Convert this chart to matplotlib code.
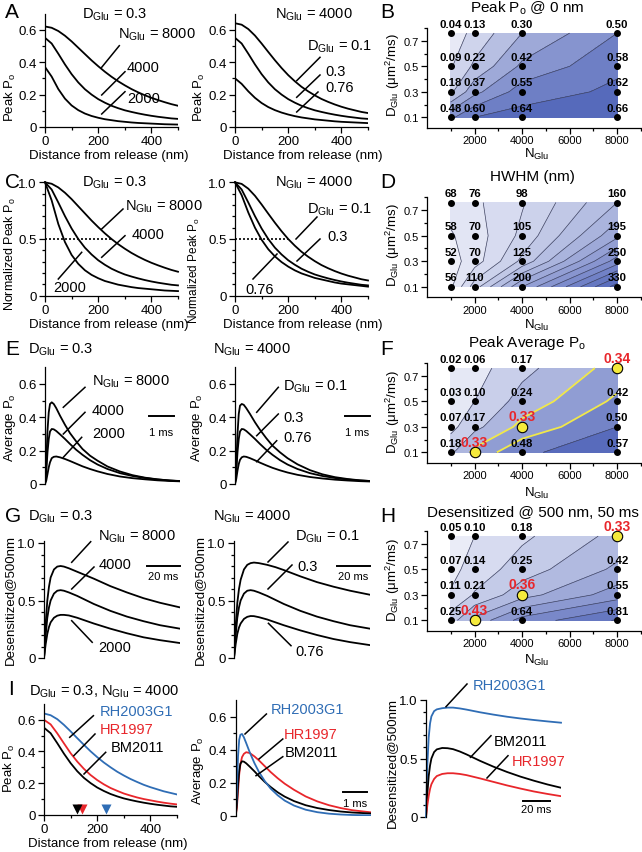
import numpy as np
import matplotlib
matplotlib.use('Agg')
import matplotlib.pyplot as plt
from matplotlib.colors import LinearSegmentedColormap
from matplotlib.lines import Line2D

plt.rcParams['font.family'] = ['Liberation Sans', 'DejaVu Sans']
plt.rcParams['mathtext.fontset'] = 'custom'
plt.rcParams['mathtext.rm'] = 'Liberation Sans'
plt.rcParams['mathtext.it'] = 'Liberation Sans:italic'
plt.rcParams['mathtext.bf'] = 'Liberation Sans:bold'

# ---------------- data ----------------
dist_nm = [0, 25, 50, 75, 100, 125, 150, 175, 200, 225, 250, 275, 300, 325, 350, 375, 400, 425, 450, 475, 500]
peak_D03_N8000 = [0.62, 0.612, 0.592, 0.563, 0.528, 0.489, 0.450, 0.411, 0.375, 0.341, 0.310, 0.282, 0.257, 0.234, 0.214, 0.196, 0.180, 0.166, 0.153, 0.141, 0.131]
peak_D03_N4000 = [0.55, 0.515, 0.452, 0.386, 0.326, 0.275, 0.233, 0.200, 0.172, 0.150, 0.131, 0.116, 0.103, 0.093, 0.084, 0.076, 0.069, 0.063, 0.058, 0.053, 0.050]
peak_D03_N2000 = [0.37, 0.311, 0.234, 0.175, 0.133, 0.104, 0.083, 0.068, 0.057, 0.048, 0.042, 0.036, 0.032, 0.028, 0.025, 0.023, 0.021, 0.019, 0.017, 0.016, 0.015]
peak_N4000_D01 = [0.64, 0.631, 0.604, 0.564, 0.515, 0.463, 0.412, 0.364, 0.320, 0.282, 0.248, 0.220, 0.195, 0.173, 0.155, 0.139, 0.125, 0.113, 0.103, 0.093, 0.086]
peak_N4000_D076 = [0.30, 0.266, 0.220, 0.180, 0.148, 0.123, 0.104, 0.089, 0.077, 0.067, 0.059, 0.053, 0.047, 0.043, 0.039, 0.035, 0.032, 0.030, 0.028, 0.026, 0.024]
peak_RH2003G1 = [0.64, 0.629, 0.604, 0.568, 0.527, 0.484, 0.442, 0.401, 0.364, 0.330, 0.300, 0.272, 0.248, 0.226, 0.207, 0.189, 0.174, 0.161, 0.148, 0.138, 0.128]
peak_HR1997 = [0.60, 0.571, 0.514, 0.451, 0.389, 0.336, 0.290, 0.251, 0.219, 0.192, 0.169, 0.151, 0.134, 0.121, 0.109, 0.099, 0.091, 0.083, 0.076, 0.070, 0.065]
peak_BM2011 = peak_D03_N4000
hwhm_I = [233, 144, 125]   # RH2003G1, HR1997, BM2011

t_avg = [0, 0.05, 0.1, 0.15, 0.2, 0.27, 0.35, 0.45, 0.6, 0.8, 1.0, 1.25, 1.5, 1.8, 2.1, 2.5, 3.0, 3.5, 4.0, 4.5, 5.0, 5.4]
avg_D03_N8000 = [0, 0.12, 0.32, 0.43, 0.48, 0.49, 0.48, 0.455, 0.41, 0.355, 0.305, 0.255, 0.21, 0.17, 0.14, 0.105, 0.075, 0.053, 0.038, 0.028, 0.021, 0.017]
avg_D03_N4000 = [0, 0.07, 0.19, 0.27, 0.315, 0.33, 0.328, 0.318, 0.298, 0.27, 0.24, 0.205, 0.175, 0.143, 0.117, 0.09, 0.065, 0.048, 0.036, 0.027, 0.021, 0.018]
avg_D03_N2000 = [0, 0.02, 0.06, 0.1, 0.13, 0.155, 0.163, 0.165, 0.16, 0.15, 0.138, 0.122, 0.106, 0.09, 0.076, 0.06, 0.045, 0.035, 0.028, 0.022, 0.018, 0.016]
avg_N4000_D01 = [0, 0.11, 0.30, 0.42, 0.47, 0.48, 0.475, 0.455, 0.42, 0.37, 0.325, 0.275, 0.23, 0.19, 0.155, 0.118, 0.083, 0.058, 0.041, 0.03, 0.022, 0.018]
avg_N4000_D076 = [0, 0.03, 0.08, 0.12, 0.145, 0.16, 0.165, 0.163, 0.155, 0.142, 0.128, 0.112, 0.097, 0.082, 0.069, 0.055, 0.042, 0.033, 0.026, 0.021, 0.017, 0.015]

t_avg_I = [0, 0.05, 0.1, 0.15, 0.2, 0.27, 0.35, 0.45, 0.6, 0.8, 1.0, 1.25, 1.5, 1.8, 2.1, 2.5, 3.0, 3.5, 4.0, 4.5, 5.0, 5.8]
avg_RH2003G1 = [0, 0.15, 0.36, 0.46, 0.49, 0.495, 0.475, 0.44, 0.385, 0.32, 0.265, 0.21, 0.165, 0.125, 0.093, 0.063, 0.038, 0.023, 0.014, 0.009, 0.006, 0.004]
avg_HR1997 = [0, 0.05, 0.15, 0.25, 0.31, 0.355, 0.375, 0.385, 0.38, 0.36, 0.335, 0.3, 0.265, 0.228, 0.195, 0.158, 0.118, 0.088, 0.065, 0.048, 0.035, 0.022]
avg_BM2011 = [0, 0.07, 0.19, 0.27, 0.315, 0.33, 0.328, 0.318, 0.298, 0.27, 0.24, 0.205, 0.175, 0.143, 0.117, 0.09, 0.065, 0.048, 0.036, 0.027, 0.021, 0.015]

t_des = [0, 1, 2, 3, 4, 6, 8, 10, 12, 15, 20, 25, 30, 40, 50, 60, 70, 82]
des_D03_N8000 = [0, 0.3, 0.5, 0.62, 0.7, 0.77, 0.795, 0.80, 0.795, 0.78, 0.75, 0.72, 0.69, 0.625, 0.57, 0.52, 0.48, 0.44]
des_D03_N4000 = [0, 0.2, 0.35, 0.44, 0.5, 0.56, 0.585, 0.59, 0.585, 0.57, 0.54, 0.505, 0.47, 0.41, 0.36, 0.32, 0.285, 0.255]
des_D03_N2000 = [0, 0.12, 0.21, 0.27, 0.31, 0.35, 0.368, 0.375, 0.375, 0.37, 0.35, 0.325, 0.3, 0.255, 0.215, 0.18, 0.155, 0.13]
des_N4000_D01 = [0, 0.28, 0.48, 0.6, 0.68, 0.77, 0.81, 0.825, 0.83, 0.825, 0.81, 0.79, 0.765, 0.71, 0.66, 0.62, 0.585, 0.55]
des_N4000_D076 = [0, 0.12, 0.21, 0.265, 0.3, 0.34, 0.358, 0.365, 0.364, 0.355, 0.335, 0.31, 0.285, 0.24, 0.2, 0.165, 0.138, 0.112]

t_des_I = [0, 1, 2, 3, 4, 6, 8, 12, 16, 20, 25, 30, 40, 50, 60, 70, 80, 90, 100]
des_RH2003G1 = [0, 0.45, 0.68, 0.8, 0.86, 0.905, 0.92, 0.93, 0.935, 0.935, 0.928, 0.918, 0.895, 0.875, 0.857, 0.842, 0.829, 0.817, 0.806]
des_BM2011 = [0, 0.2, 0.35, 0.44, 0.5, 0.555, 0.578, 0.59, 0.588, 0.58, 0.56, 0.535, 0.48, 0.43, 0.385, 0.345, 0.31, 0.278, 0.25]
des_HR1997 = [0, 0.1, 0.18, 0.24, 0.28, 0.325, 0.35, 0.368, 0.374, 0.374, 0.368, 0.358, 0.33, 0.3, 0.27, 0.243, 0.218, 0.197, 0.178]

N_glu = [1000, 2000, 4000, 8000]
D_glu = [0.1, 0.3, 0.5, 0.76]
# rows: D = 0.1, 0.3, 0.5, 0.76 ; cols: N = 1000, 2000, 4000, 8000
peak0_grid = [[0.48, 0.60, 0.64, 0.66], [0.18, 0.37, 0.55, 0.62], [0.09, 0.22, 0.42, 0.58], [0.04, 0.13, 0.30, 0.50]]
hwhm_grid = [[56, 110, 200, 330], [52, 70, 125, 250], [58, 70, 105, 195], [68, 76, 98, 160]]
peakavg_grid = [[0.18, 0.33, 0.48, 0.57], [0.07, 0.17, 0.33, 0.50], [0.03, 0.10, 0.24, 0.42], [0.02, 0.06, 0.17, 0.34]]
desens_grid = [[0.25, 0.43, 0.64, 0.81], [0.11, 0.21, 0.36, 0.55], [0.07, 0.14, 0.25, 0.42], [0.05, 0.10, 0.18, 0.33]]
highlight_cells = [(0, 1), (1, 2), (3, 3)]

BLUE = '#2f6db5'
RED = '#e8262b'

# ---------------- helpers ----------------
W, H = 642, 853
fig = plt.figure(figsize=(W / 100, H / 100), dpi=100)


def fx(x):
    return x / W


def fy(y):
    return 1 - y / H


def add_ax(l, t, r, b):
    return fig.add_axes([fx(l), fy(b), (r - l) / W, (b - t) / H])


def ftext(x, y, s, size=10, ha='left', va='center', **kw):
    fig.text(fx(x), fy(y), s, fontsize=size, ha=ha, va=va, **kw)


def leader(x0, y0, x1, y1, color='k'):
    fig.add_artist(Line2D([fx(x0), fx(x1)], [fy(y0), fy(y1)], color=color, lw=1.1,
                          transform=fig.transFigure))


def fmt0(v):
    return '0' if v == 0 else f'{v:.1f}'


def style(ax, bottom=True):
    for s in ['top', 'right']:
        ax.spines[s].set_visible(False)
    if not bottom:
        ax.spines['bottom'].set_visible(False)
        ax.set_xticks([])
    for s in ax.spines.values():
        s.set_linewidth(0.9)
    ax.tick_params(which='major', direction='out', length=4, width=0.9, labelsize=9.5, pad=2)
    ax.tick_params(which='minor', direction='out', length=2.5, width=0.9)
    ax.patch.set_alpha(0)


def yt(ax, major, minor):
    ax.set_yticks(major)
    ax.set_yticklabels([fmt0(v) for v in major])
    ax.set_yticks(minor, minor=True)


def xt_dist(ax):
    ax.set_xlim(0, 500)
    ax.set_xticks([0, 200, 400])
    ax.set_xticklabels(['0', '200', '400'])
    ax.set_xticks([100, 300, 500], minor=True)


GLU = r'$_{\mathrm{Glu}}$'
LW = 1.3

# ---------------- A ----------------
axA1 = add_ax(45, 14.5, 178, 128)
axA2 = add_ax(235, 14.5, 368, 128)
for ax in (axA1, axA2):
    style(ax)
    ax.set_ylim(0, 0.7)
    yt(ax, [0, 0.2, 0.4, 0.6], [0.1, 0.3, 0.5])
    xt_dist(ax)
for y in (peak_D03_N8000, peak_D03_N4000, peak_D03_N2000):
    axA1.plot(dist_nm, y, 'k', lw=LW)
for y in (peak_N4000_D01, peak_D03_N4000, peak_N4000_D076):
    axA2.plot(dist_nm, y, 'k', lw=LW)
ftext(5, 13, 'A', 15)
ftext(115, 15, 'D' + GLU + ' = 0.3', 10.5, ha='center')
ftext(314, 15, 'N' + GLU + ' = 4000', 10.5, ha='center')
ftext(118, 35, 'N' + GLU + ' = 8000', 10.5)
leader(101.7, 68.3, 119.3, 46.7)
ftext(127, 68, '4000', 10.5)
leader(101.7, 96, 125, 72.7)
ftext(127, 99, '2000', 10.5)
leader(101.7, 115, 125, 92.7)
ftext(307, 46.7, 'D' + GLU + ' = 0.1', 10.5)
leader(296.7, 81.7, 320, 58.3)
ftext(325, 71.7, '0.3', 10.5)
leader(296.7, 98.3, 320, 76)
ftext(325, 88.3, '0.76', 10.5)
leader(296.7, 113, 318, 93)
for x in (10, 199):
    ftext(x, 97, 'Peak P$_{\\mathrm{o}}$', 9.5, ha='center', rotation=90)
ftext(109, 156, 'Distance from release (nm)', 9.5, ha='center')
ftext(303, 156, 'Distance from release (nm)', 9.5, ha='center')

# ---------------- C ----------------
axC1 = add_ax(45, 183.3, 178, 296.7)
axC2 = add_ax(235, 183.3, 368, 296.7)
for ax in (axC1, axC2):
    style(ax)
    ax.set_ylim(0, 1.0)
    yt(ax, [0, 0.5, 1.0], [0.1, 0.2, 0.3, 0.4, 0.6, 0.7, 0.8, 0.9])
    xt_dist(ax)
for y in (peak_D03_N8000, peak_D03_N4000, peak_D03_N2000):
    axC1.plot(dist_nm, np.array(y) / y[0], 'k', lw=LW, clip_on=False)
for y in (peak_N4000_D01, peak_D03_N4000, peak_N4000_D076):
    axC2.plot(dist_nm, np.array(y) / y[0], 'k', lw=LW, clip_on=False)
axC1.plot([0, hwhm_grid[1][3]], [0.5, 0.5], 'k', ls=(0, (1.2, 1.2)), lw=1.2)
axC2.plot([0, hwhm_grid[0][2]], [0.5, 0.5], 'k', ls=(0, (1.2, 1.2)), lw=1.2)
ftext(5, 182, 'C', 15)
ftext(115, 183, 'D' + GLU + ' = 0.3', 10.5, ha='center')
ftext(314, 183, 'N' + GLU + ' = 4000', 10.5, ha='center')
ftext(125, 207, 'N' + GLU + ' = 8000', 10.5)
leader(101.7, 230, 123, 210)
ftext(131.7, 235, '4000', 10.5)
leader(101.7, 258.3, 125, 236.7)
ftext(53, 288, '2000', 10.5)
leader(58.3, 280, 81.7, 253.3)
ftext(307, 210, 'D' + GLU + ' = 0.1', 10.5)
leader(296, 240, 317, 218)
ftext(327, 237, '0.3', 10.5)
leader(297, 262, 320, 240)
ftext(245, 290, '0.76', 10.5)
leader(253, 280, 277, 255)
ftext(10, 254, 'Normalized Peak P$_{\\mathrm{o}}$', 9, ha='center', rotation=90)
ftext(194, 271, 'Normalized Peak P$_{\\mathrm{o}}$', 8.5, ha='center', rotation=90)
ftext(109, 325, 'Distance from release (nm)', 9.5, ha='center')
ftext(303, 325, 'Distance from release (nm)', 9.5, ha='center')

# ---------------- E ----------------
axE1 = add_ax(45, 368.3, 180, 485)
axE2 = add_ax(235, 368.3, 370, 485)
for ax in (axE1, axE2):
    style(ax, bottom=False)
    ax.set_ylim(0, 0.7)
    ax.set_xlim(0, 5.4)
    yt(ax, [0, 0.2, 0.4, 0.6], [0.1, 0.3, 0.5])
for y in (avg_D03_N8000, avg_D03_N4000, avg_D03_N2000):
    axE1.plot(t_avg, y, 'k', lw=LW)
for y in (avg_N4000_D01, avg_D03_N4000, avg_N4000_D076):
    axE2.plot(t_avg, y, 'k', lw=LW)
axE1.plot([4.15, 5.15], [0.41, 0.41], 'k', lw=1.4, clip_on=False)
axE1.text(4.65, 0.31, '1 ms', ha='center', va='center', fontsize=8)
axE2.plot([4.4, 5.4], [0.41, 0.41], 'k', lw=1.4, clip_on=False)
axE2.text(4.9, 0.31, '1 ms', ha='center', va='center', fontsize=8)
ftext(5, 350, 'E', 15)
ftext(28, 350, 'D' + GLU + ' = 0.3', 10.5)
ftext(213, 350, 'N' + GLU + ' = 4000', 10.5)
ftext(92, 382, 'N' + GLU + ' = 8000', 10.5)
leader(63.3, 408.3, 85, 388.3)
ftext(92, 411, '4000', 10.5)
leader(63.3, 435, 85, 413.3)
ftext(92, 434, '2000', 10.5)
leader(63.3, 458.3, 81.7, 438.3)
ftext(283, 387, 'D' + GLU + ' = 0.1', 10.5)
leader(256.7, 413.3, 278.3, 388.3)
ftext(283, 418, '0.3', 10.5)
leader(256.7, 436.7, 278.3, 415)
ftext(283, 438.3, '0.76', 10.5)
leader(256.7, 462.7, 276.7, 441.7)
ftext(10, 428, 'Average P$_{\\mathrm{o}}$', 9.5, ha='center', rotation=90)
ftext(197, 428, 'Average P$_{\\mathrm{o}}$', 9.5, ha='center', rotation=90)

# ---------------- G ----------------
axG1 = add_ax(44, 541.7, 180, 659)
axG2 = add_ax(234, 541.7, 370, 659)
for ax in (axG1, axG2):
    style(ax, bottom=False)
    ax.set_ylim(0, 1.02)
    ax.set_xlim(0, 82)
    yt(ax, [0, 0.5, 1.0], [0.1, 0.2, 0.3, 0.4, 0.6, 0.7, 0.8, 0.9])
for y in (des_D03_N8000, des_D03_N4000, des_D03_N2000):
    axG1.plot(t_des, y, 'k', lw=LW)
for y in (des_N4000_D01, des_D03_N4000, des_N4000_D076):
    axG2.plot(t_des, y, 'k', lw=LW)
for ax in (axG1, axG2):
    ax.plot([62, 82], [0.8, 0.8], 'k', lw=1.4, clip_on=False)
    ax.text(72, 0.71, '20 ms', ha='center', va='center', fontsize=8)
ftext(5, 517, 'G', 15)
ftext(28, 517, 'D' + GLU + ' = 0.3', 10.5)
ftext(213, 517, 'N' + GLU + ' = 4000', 10.5)
ftext(98, 537.3, 'N' + GLU + ' = 8000', 10.5)
leader(71.7, 563.3, 90.7, 542.7)
ftext(99, 565, '4000', 10.5)
leader(71.7, 590, 94, 568)
ftext(98, 647.7, '2000', 10.5)
leader(71.7, 621.7, 92.2, 643.3)
ftext(295, 537, 'D' + GLU + ' = 0.1', 10.5)
leader(268, 563, 288, 543)
ftext(297, 567, '0.3', 10.5)
leader(268, 590, 292, 566)
ftext(295, 652, '0.76', 10.5)
leader(268.4, 624.3, 291, 646.7)
ftext(10, 600, 'Desensitized@500nm', 9.5, ha='center', rotation=90)
ftext(200, 600, 'Desensitized@500nm', 9.5, ha='center', rotation=90)

# ---------------- I ----------------
axI1 = add_ax(44, 705, 177, 815.7)
style(axI1)
axI1.set_ylim(0, 0.7)
yt(axI1, [0, 0.2, 0.4, 0.6], [0.1, 0.3, 0.5])
xt_dist(axI1)
axI1.plot(dist_nm, peak_RH2003G1, color=BLUE, lw=LW)
axI1.plot(dist_nm, peak_HR1997, color=RED, lw=LW)
axI1.plot(dist_nm, peak_BM2011, color='k', lw=LW)
for xv, c in zip(hwhm_I, [BLUE, RED, 'k']):
    axI1.plot([xv], [0.036], marker='v', ms=7.5, color=c, mec='none', clip_on=False)

axI2 = add_ax(235.7, 701, 371, 817)
style(axI2, bottom=False)
axI2.set_ylim(0, 0.7)
axI2.set_xlim(0, 5.8)
yt(axI2, [0, 0.2, 0.4, 0.6], [0.1, 0.3, 0.5])
axI2.plot(t_avg_I, avg_HR1997, color=RED, lw=LW)
axI2.plot(t_avg_I, avg_BM2011, color='k', lw=LW)
axI2.plot(t_avg_I, avg_RH2003G1, color=BLUE, lw=LW)
axI2.plot([4.62, 5.62], [0.145, 0.145], 'k', lw=1.4, clip_on=False)
axI2.text(5.12, 0.08, '1 ms', ha='center', va='center', fontsize=8)

axI3 = add_ax(426, 701, 561, 818)
style(axI3, bottom=False)
axI3.set_ylim(0, 1.0)
axI3.set_xlim(0, 100)
yt(axI3, [0, 0.5, 1.0], [0.1, 0.2, 0.3, 0.4, 0.6, 0.7, 0.8, 0.9])
axI3.plot(t_des_I, des_RH2003G1, color=BLUE, lw=LW, clip_on=False)
axI3.plot(t_des_I, des_BM2011, color='k', lw=LW)
axI3.plot(t_des_I, des_HR1997, color=RED, lw=LW)
axI3.plot([71.5, 91.5], [0.14, 0.14], 'k', lw=1.4, clip_on=False)
axI3.text(81.5, 0.07, '20 ms', ha='center', va='center', fontsize=8)

ftext(8, 690, 'I', 15)
ftext(29, 692, 'D' + GLU + ' = 0.3, N' + GLU + ' = 4000', 10.5)
ftext(99.6, 711.7, 'RH2003G1', 10.5, color=BLUE)
leader(69.7, 738.3, 93.4, 716.7)
ftext(99.6, 730, 'HR1997', 10.5, color=RED)
leader(73.8, 756.7, 95, 735)
ftext(110.7, 748.3, 'BM2011', 10.5)
leader(84, 775, 105.7, 753.3)
ftext(270.5, 710, 'RH2003G1', 10.5, color=BLUE)
leader(245, 735, 266.4, 715)
ftext(284, 735, 'HR1997', 10.5, color=RED)
leader(259, 760, 282.8, 740)
ftext(284.8, 753.3, 'BM2011', 10.5)
leader(256, 776.7, 282.8, 757.7)
ftext(473, 686, 'RH2003G1', 10.5, color=BLUE)
leader(446, 707.7, 467, 685)
ftext(494, 741.7, 'BM2011', 10.5)
leader(470.5, 758.3, 491, 736.7)
ftext(511.5, 761.7, 'HR1997', 10.5, color=RED)
leader(487, 779, 508, 756.7)
ftext(9, 768, 'Peak P$_{\\mathrm{o}}$', 9.5, ha='center', rotation=90)
ftext(198, 771, 'Average P$_{\\mathrm{o}}$', 9.5, ha='center', rotation=90)
ftext(392, 763, 'Desensitized@500nm', 9.5, ha='center', rotation=90)
ftext(108, 844, 'Distance from release (nm)', 9.5, ha='center')

# ---------------- heat maps ----------------
cmap = LinearSegmentedColormap.from_list('bl', ['#f3f4fb', '#4a5fb6'])
NN, DD = np.meshgrid(N_glu, D_glu)


def heat(t, b, Z, levels, fmt, yellow=None):
    ax = add_ax(427, t, 641, b)
    Z = np.array(Z, dtype=float)
    ax.contourf(N_glu, D_glu, Z, levels=levels, cmap=cmap, vmin=levels[0], vmax=levels[-1])
    gray = [l for l in levels if yellow is None or l not in yellow]
    ax.contour(N_glu, D_glu, Z, levels=gray, colors='#404460', linewidths=0.5)
    if yellow:
        ax.contour(N_glu, D_glu, Z, levels=yellow, colors='#f1e84a', linewidths=1.3)
    ax.plot(NN.ravel(), DD.ravel(), 'o', color='k', ms=4, clip_on=False, zorder=4)
    for i in range(len(D_glu)):
        for j in range(len(N_glu)):
            hl = yellow is not None and (i, j) in highlight_cells
            if hl:
                ax.plot(N_glu[j], D_glu[i], 'o', ms=7.5, mfc='#f5ea3c', mec='k', mew=0.8,
                        clip_on=False, zorder=5)
            ax.annotate(fmt(Z[i, j]), (N_glu[j], D_glu[i]), xytext=(0, 7.5 if hl else 6.8),
                        textcoords='offset points', ha='center', va='center',
                        fontsize=10 if hl else 8.2, fontweight='bold',
                        color=RED if hl else 'k', annotation_clip=False, zorder=6)
    for s in ['top', 'right']:
        ax.spines[s].set_visible(False)
    for s in ax.spines.values():
        s.set_linewidth(0.9)
    ax.set_xlim(0, 9000)
    ax.set_ylim(0.02, 0.8)
    ax.set_xticks([2000, 4000, 6000, 8000])
    ax.set_xticks([1000, 3000, 5000, 7000, 9000], minor=True)
    ax.set_yticks([0.1, 0.3, 0.5, 0.7])
    ax.set_yticklabels(['0.1', '0.3', '0.5', '0.7'])
    ax.set_yticks([0.2, 0.4, 0.6, 0.8], minor=True)
    ax.tick_params(which='major', direction='out', length=4, width=0.9, labelsize=8, pad=1.5)
    ax.tick_params(which='minor', direction='out', length=2.5, width=0.9)
    ax.patch.set_alpha(0)
    return ax


heat(29, 128.6, peak0_grid, [0, 0.1, 0.2, 0.3, 0.4, 0.5, 0.6, 0.7], lambda v: f'{v:.2f}')
heat(198.4, 298, hwhm_grid, list(range(40, 341, 20)), lambda v: f'{int(v)}')
heat(364, 463.6, peakavg_grid, [0, 0.1, 0.2, 0.3, 0.4, 0.5, 0.6], lambda v: f'{v:.2f}', yellow=[0.3, 0.4])
heat(532, 631.6, desens_grid, [0, 0.1, 0.2, 0.3, 0.4, 0.5, 0.6, 0.7, 0.8, 0.9], lambda v: f'{v:.2f}', yellow=[])

for letter, y in (('B', 13), ('D', 183), ('F', 350), ('H', 517)):
    ftext(380, y, letter, 15)
ftext(527, 8, 'Peak P$_{\\mathrm{o}}$ @ 0 nm', 11, ha='center')
ftext(532, 177, 'HWHM (nm)', 11, ha='center')
ftext(527, 343, 'Peak Average P$_{\\mathrm{o}}$', 11, ha='center')
ftext(533, 513, 'Desensitized @ 500 nm, 50 ms', 11, ha='center')
for y in (154, 325, 493, 660):
    ftext(537, y, 'N' + GLU, 9.5, ha='center')
for y in (75, 245, 412, 580):
    ftext(393, y, 'D' + GLU + ' (μm$^{2}$/ms)', 9.5, ha='center', rotation=90)

fig.savefig('out.png', dpi=100)
